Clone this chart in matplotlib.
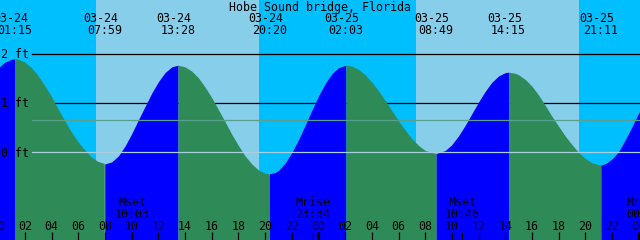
import matplotlib
matplotlib.use('Agg')
import matplotlib.pyplot as plt

title = 'Hobe Sound bridge, Florida'

# tide height (hours after 03-24 00:00, feet)
hours = [0, 0.5, 1, 1.25, 1.5, 2, 2.5, 3, 3.5, 4, 4.5, 5, 5.5, 6, 6.5, 7, 7.5, 7.98,
         8.5, 9, 9.5, 10, 10.5, 11, 11.5, 12, 12.5, 13, 13.47,
         14, 14.5, 15, 15.5, 16, 16.5, 17, 17.5, 18, 18.5, 19, 19.5, 20, 20.33,
         20.75, 21, 21.5, 22, 22.5, 23, 23.5, 24, 24.5, 25, 25.5, 26.05,
         26.5, 27, 27.5, 28, 28.5, 29, 29.5, 30, 30.5, 31, 31.5, 32, 32.82,
         33.5, 34, 34.5, 35, 35.5, 36, 36.5, 37, 37.5, 38, 38.25,
         38.75, 39, 39.5, 40, 40.5, 41, 41.5, 42, 42.5, 43, 43.5, 44, 44.5, 45, 45.18,
         45.5, 46, 46.5, 47, 47.5, 48, 48.2]
heights = [1.69, 1.81, 1.87, 1.885, 1.878, 1.82, 1.71, 1.55, 1.35, 1.13, 0.88, 0.64,
           0.41, 0.21, 0.05, -0.10, -0.19, -0.232,
           -0.19, -0.07, 0.13, 0.38, 0.66, 0.93, 1.20, 1.43, 1.615, 1.73, 1.764,
           1.73, 1.644, 1.51, 1.32, 1.11, 0.866, 0.62, 0.367, 0.14, -0.07, -0.23,
           -0.354, -0.42, -0.433,
           -0.404, -0.36, -0.214, 0.00, 0.258, 0.55, 0.852, 1.14, 1.39, 1.59, 1.714, 1.764,
           1.745, 1.68, 1.57, 1.42, 1.247, 1.05, 0.845, 0.64, 0.449, 0.28, 0.143, 0.04, -0.02,
           0.04, 0.16, 0.338, 0.55, 0.785, 1.02, 1.237, 1.42, 1.547, 1.614, 1.623,
           1.599, 1.57, 1.476, 1.34, 1.16, 0.95, 0.73, 0.53, 0.33, 0.16, 0.00, -0.12,
           -0.208, -0.245, -0.252,
           -0.23, -0.13, 0.02, 0.26, 0.52, 0.80, 0.91]

# high / low tide labels
event_hours = [1.25, 7.983, 13.467, 20.333, 26.05, 32.817, 38.25, 45.183]
event_dates = ['03-24', '03-24', '03-24', '03-24', '03-25', '03-25', '03-25', '03-25']
event_times = ['01:15', '07:59', '13:28', '20:20', '02:03', '08:49', '14:15', '21:11']

# daylight
sunrise = [7.317, 31.317]
sunset = [19.55, 43.533]

# moon events
moon_hours = [10.05, 23.567, 34.767, 48.4]
moon_names = ['Mset', 'Mrise', 'Mset', 'Mrise']
moon_times = ['10:03', '23:34', '10:46', '00:24']

levels = [2, 1, 0]
level_names = ['2 ft', '1 ft', '0 ft']
msl = 0.65
hour_ticks = list(range(0, 50, 2))
hour_labels = ['%02d' % (h % 24) for h in hour_ticks]
midnights = [24, 48]

plt.rcParams['font.family'] = 'DejaVu Sans Mono'
fs = 8.4

fig = plt.figure(figsize=(6.4, 2.4), dpi=100)
ax = fig.add_axes([0, 0, 1, 1])
ax.set_xlim(0.127, 48.1)
ax.set_ylim(-1.768, 3.081)
ax.axis('off')

# sky
ax.axvspan(-1, 50, color='#00bfff', lw=0, zorder=0)
for r, s in zip(sunrise, sunset):
    ax.axvspan(r, s, color='#87ceeb', lw=0, zorder=0)

# upper reference lines (behind water)
for lv in levels[:2]:
    ax.axhline(lv, xmin=32 / 640, xmax=1, color='black', lw=0.9, zorder=1)

# water, blue while rising, green while falling
start = 0
for i in range(1, len(hours)):
    rising = heights[i] > heights[i - 1]
    last = i == len(hours) - 1
    if last or (heights[i + 1] > heights[i]) != rising:
        ax.fill_between(hours[start:i + 1], heights[start:i + 1], -3,
                        color='#0000ff' if rising else '#2e8b57',
                        lw=0, zorder=2)
        start = i

ax.axhline(msl, xmin=32 / 640, xmax=1, color='#5a9f8c', lw=0.9, zorder=3)
ax.axhline(0, xmin=32 / 640, xmax=1, color='#a9cfdc', lw=0.9, zorder=3)

# ticks along the bottom
tr = ax.get_xaxis_transform()
ax.vlines(hour_ticks, 0, 8 / 240, transform=tr, color='black', lw=0.9, zorder=4)
ax.vlines(moon_hours, 0, 8 / 240, transform=tr, color='black', lw=0.9, zorder=4)
ax.vlines(midnights, 0, 8 / 240, transform=tr, color='black', lw=2.3, zorder=4)

def label(t, y_px, s, dx=0):
    ax.annotate(s, xy=(t, 1), xycoords=('data', 'axes fraction'),
                xytext=(dx, -y_px), textcoords='offset pixels',
                ha='center', va='baseline', fontsize=fs, zorder=5)

fig.text(0.5, 1 - 10.5 / 240, title, ha='center', va='baseline', fontsize=fs)

for t, d, s in zip(event_hours, event_dates, event_times):
    label(t, 21.8, d, dx=-4)
    label(t, 33.8, s)

for lv, name in zip(levels, level_names):
    y_px = 152.5 - 49.5 * lv + 4.3
    fig.text(1 / 640, 1 - y_px / 240, name, ha='left', va='baseline', fontsize=fs)

for t, n, s in zip(moon_hours, moon_names, moon_times):
    label(t, 206, n)
    label(t, 217.5, s)

for t, s in zip(hour_ticks, hour_labels):
    label(t, 229.5, s)

fig.savefig('out.png', dpi=100)
